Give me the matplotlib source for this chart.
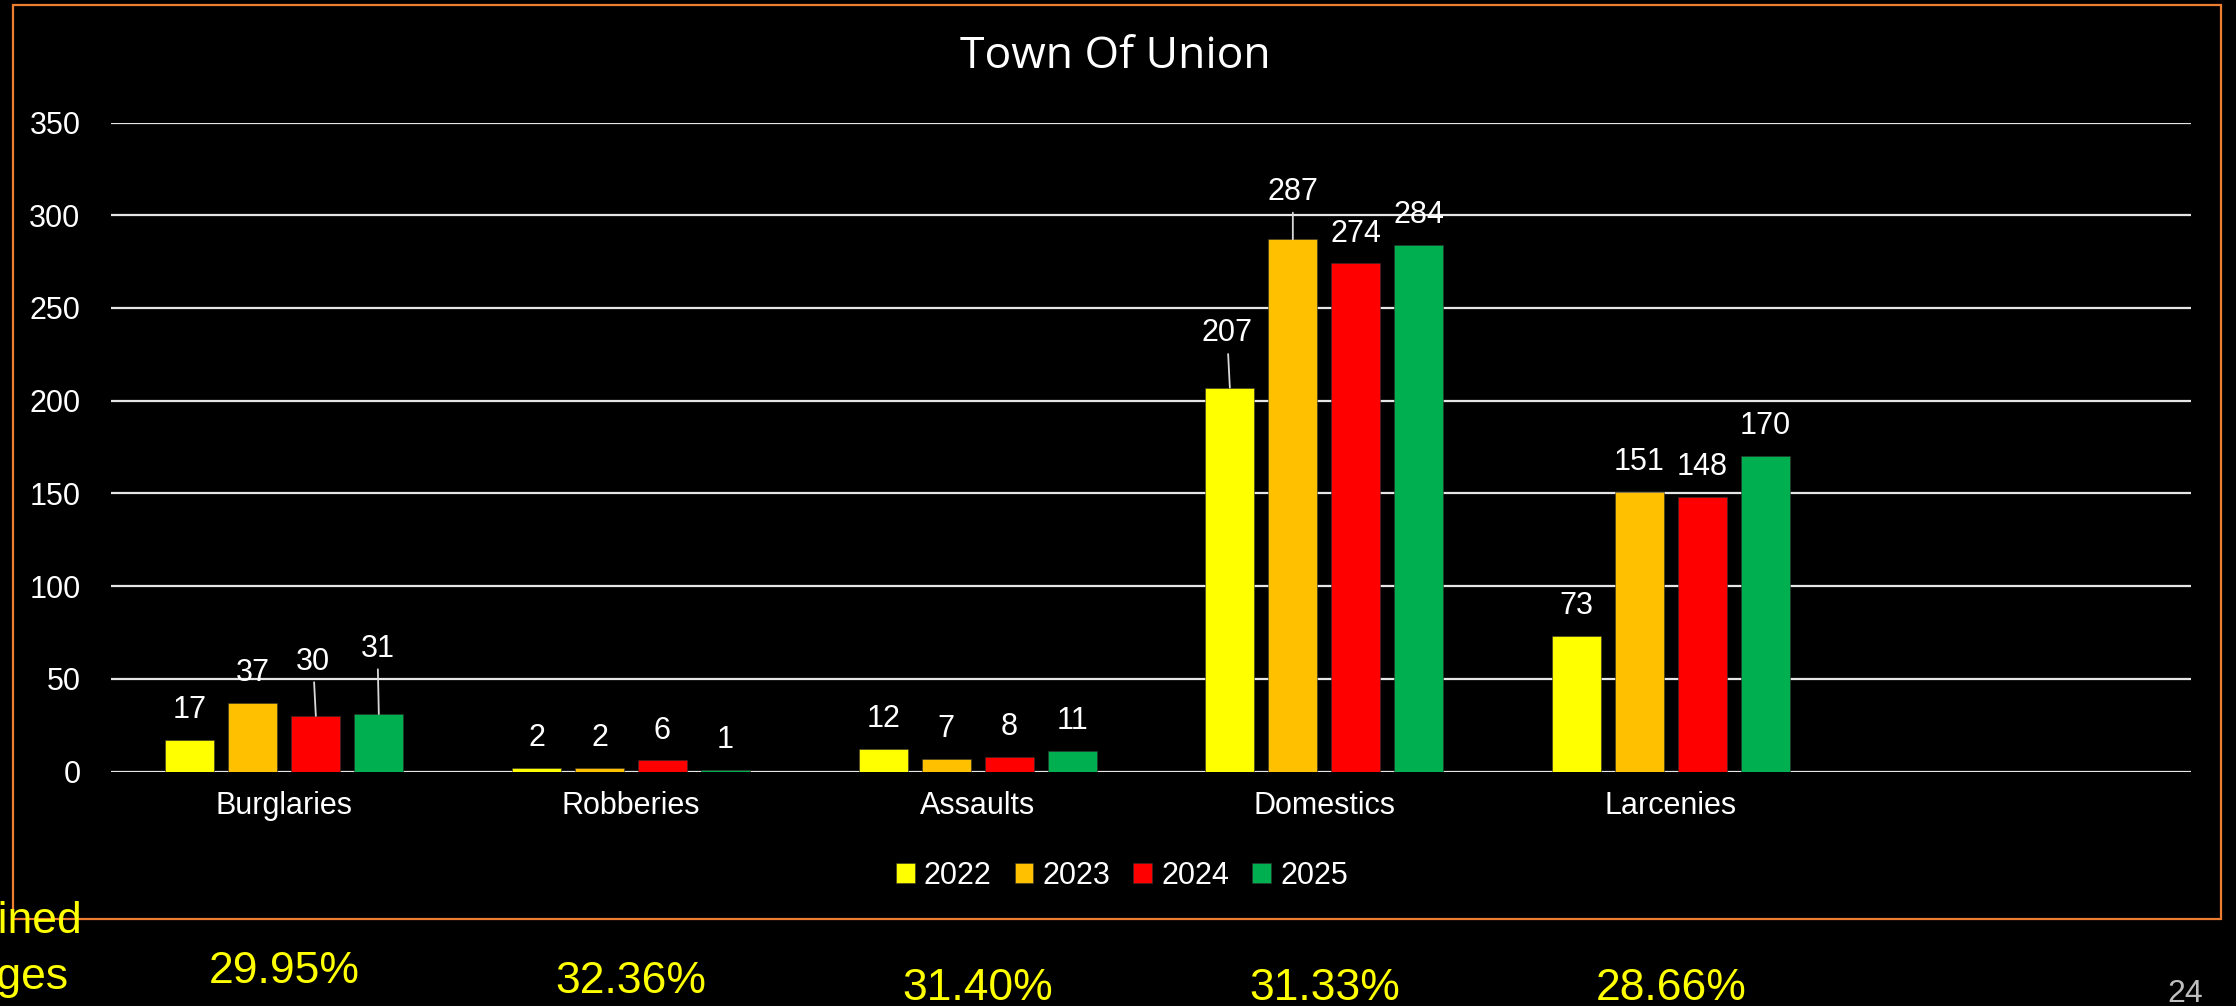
import matplotlib
matplotlib.use("Agg")
import matplotlib.pyplot as plt
from matplotlib.patches import Rectangle
from matplotlib.transforms import blended_transform_factory
import numpy as np

plt.rcParams['font.family'] = ['Liberation Sans', 'DejaVu Sans']

# data
categories = ["Burglaries", "Robberies", "Assaults", "Domestics", "Larcenies"]
years = ["2022", "2023", "2024", "2025"]
v2022 = [17, 2, 12, 207, 73]
v2023 = [37, 2, 7, 287, 151]
v2024 = [30, 6, 8, 274, 148]
v2025 = [31, 1, 11, 284, 170]
averages = ["29.95%", "32.36%", "31.40%", "31.33%", "28.66%"]
yticks = [0, 50, 100, 150, 200, 250, 300, 350]

series = [v2022, v2023, v2024, v2025]
colors = ["#FFFF00", "#FFC000", "#FF0000", "#00B050"]

# labels that were dragged up with a leader line: (series, category) -> (dx, dy) in points
moved = {(2, 0): (-2, 39), (3, 0): (-1, 47), (0, 3): (-2, 39), (1, 3): (0, 34)}

W, H = 2236, 1006
fig = plt.figure(figsize=(W / 100, H / 100), dpi=100, facecolor="black")
ax = fig.add_axes([111 / W, 1 - 771.5 / H, 2080 / W, 649 / H])
ax.set_facecolor("black")

x = np.arange(len(categories))
width = 0.141
pitch = 0.1817
bars = []
for i, vals in enumerate(series):
    b = ax.bar(x + (i - 1.5) * pitch, vals, width, color=colors[i],
               edgecolor="#303030", linewidth=0.4, label=years[i], zorder=3)
    bars.append(b)
    for j, rect in enumerate(b):
        cx = rect.get_x() + rect.get_width() / 2
        top = rect.get_height()
        if (i, j) in moved:
            dx, dy = moved[(i, j)]
            ax.annotate(str(vals[j]), (cx, top), xytext=(dx, dy), textcoords="offset points",
                        ha="center", va="center", color="white", fontsize=22,
                        arrowprops=dict(arrowstyle="-", color="#D9D9D9", lw=1.3,
                                        shrinkA=2, shrinkB=0))
        else:
            ax.annotate(str(vals[j]), (cx, top), xytext=(0, 21.5), textcoords="offset points",
                        ha="center", va="center", color="white", fontsize=22)

ax.set_xlim(-0.5, 5.5)
ax.set_ylim(0, 350)
ax.set_yticks(yticks)
ax.set_xticks(x)
ax.set_xticklabels(categories)
ax.tick_params(axis="y", length=0, pad=22, labelsize=22, labelcolor="white")
ax.tick_params(axis="x", length=0, pad=14, labelsize=22, labelcolor="white")
ax.yaxis.grid(True, color="#E6E6E6", linewidth=1.6, zorder=0)
ax.set_axisbelow(True)
for s in ax.spines.values():
    s.set_visible(False)

fig.text(1115 / W, 1 - 57 / H, "Town Of Union", ha="center", va="center",
         color="white", fontsize=32, family=["Open Sans", "DejaVu Sans"])

fig.legend(handles=bars, labels=years, loc="center", bbox_to_anchor=(1122 / W, 1 - 876 / H),
           ncol=4, frameon=False, fontsize=22, labelcolor="white",
           handlelength=0.62, handleheight=0.62, handletextpad=0.3, columnspacing=0.75)

# orange frame round the chart
fig.add_artist(Rectangle((13 / W, 1 - 919 / H), 2208 / W, 914 / H, transform=fig.transFigure,
                         fill=False, edgecolor="#ED7D31", linewidth=1.6))

# combined averages under each category
trans = blended_transform_factory(ax.transData, fig.transFigure)
pct_base = [983, 993, 1000, 1000, 1000]
for j, txt in enumerate(averages):
    fig.text(x[j], 1 - pct_base[j] / H, txt, transform=trans, ha="center", va="baseline",
             color="#FFFF00", fontsize=32)

fig.text(83 / W, 1 - 933 / H, "Combined", ha="right", va="baseline", color="#FFFF00", fontsize=32)
fig.text(69 / W, 1 - 989 / H, "Averages", ha="right", va="baseline", color="#FFFF00", fontsize=32)

fig.text(2185 / W, 1 - 1002 / H, "24", ha="center", va="baseline", color="#BFBFBF", fontsize=23)

fig.savefig("out.png", dpi=100, facecolor="black")
